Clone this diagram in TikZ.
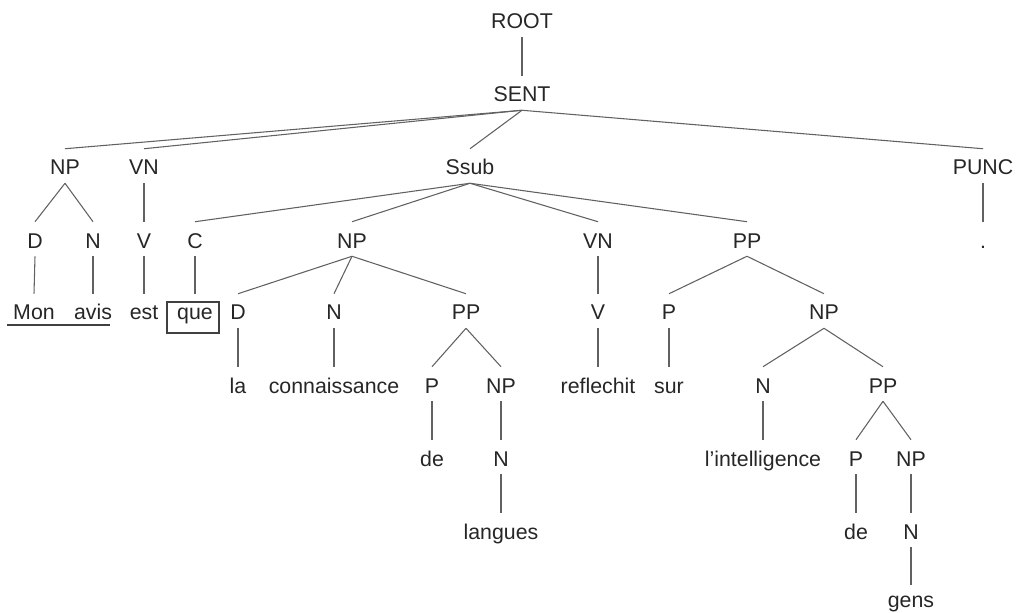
\documentclass[tikz,border=0pt]{standalone}
\usepackage{fontspec}
\setmainfont{Liberation Sans}
\usepackage{tikz}
\usetikzlibrary{calc}

\begin{document}
\begin{tikzpicture}[x=0.75pt, y=-0.75pt,
    every node/.style={anchor=base, inner sep=0pt, text height=19.5pt, text depth=6pt,
        text=black!85, font=\fontsize{16}{19}\selectfont},
    branch/.style={draw=black!62, line width=0.8pt}]
    \useasboundingbox (0,0) rectangle (1018,613);
    % Arrel i frase
    \node (root) at (522,29) {ROOT};
    \node (sent) at (522,102) {SENT};
    % Constituents de la frase
    \node (np) at (65,175) {NP};
    \node (vn) at (144,175) {VN};
    \node (ssub) at (470,175) {Ssub};
    \node (punc) at (983,175) {PUNC};
    % Nivell 3
    \node (d) at (35,248) {D};
    \node (n) at (93,248) {N};
    \node (v) at (144,248) {V};
    \node (c) at (195,248) {C};
    \node (npb) at (352,248) {NP};
    \node (vnb) at (598,248) {VN};
    \node (ppb) at (747,248) {PP};
    \node (dot) at (983,248) {.};
    % Nivell 4
    \node (mon) at (34,320) {Mon};
    \node (avis) at (93,320) {avis};
    \node (est) at (144,320) {est};
    \node (que) at (195,320) {que};
    \node (dc) at (238,320) {D};
    \node (nc) at (334,320) {N};
    \node (ppc) at (466,320) {PP};
    \node (vc) at (598,320) {V};
    \node (pc) at (669,320) {P};
    \node (npc) at (824,320) {NP};
    % Nivell 5
    \node (la) at (238,393) {la};
    \node (conn) at (334,393) {connaissance};
    \node (pd) at (432,393) {P};
    \node (npd) at (501,393) {NP};
    \node (refl) at (598,393) {reflechit};
    \node (sur) at (669,393) {sur};
    \node (nd) at (763,393) {N};
    \node (ppd) at (883,393) {PP};
    % Nivell 6
    \node (de) at (432,466) {de};
    \node (ne) at (501,466) {N};
    \node (intel) at (763,466) {l'intelligence};
    \node (pe) at (856,466) {P};
    \node (npe) at (911,466) {NP};
    % Nivells 7 i 8
    \node (lang) at (501,539) {langues};
    \node (deb) at (856,539) {de};
    \node (nf) at (911,539) {N};
    \node (gens) at (911,607) {gens};
    % Branques
    \draw[branch] (root.south) -- (sent.north);
    \draw[branch] (sent.south) -- (np.north);
    \draw[branch] (sent.south) -- (vn.north);
    \draw[branch] (sent.south) -- (ssub.north);
    \draw[branch] (sent.south) -- (punc.north);
    \draw[branch] (np.south) -- (d.north);
    \draw[branch] (np.south) -- (n.north);
    \draw[branch] (vn.south) -- (v.north);
    \draw[branch] (ssub.south) -- (c.north);
    \draw[branch] (ssub.south) -- (npb.north);
    \draw[branch] (ssub.south) -- (vnb.north);
    \draw[branch] (ssub.south) -- (ppb.north);
    \draw[branch] (punc.south) -- (dot.north);
    \draw[branch] (d.south) -- (mon.north);
    \draw[branch] (n.south) -- (avis.north);
    \draw[branch] (v.south) -- (est.north);
    \draw[branch] (c.south) -- (que.north);
    \draw[branch] (npb.south) -- (dc.north);
    \draw[branch] (npb.south) -- (nc.north);
    \draw[branch] (npb.south) -- (ppc.north);
    \draw[branch] (vnb.south) -- (vc.north);
    \draw[branch] (ppb.south) -- (pc.north);
    \draw[branch] (ppb.south) -- (npc.north);
    \draw[branch] (dc.south) -- (la.north);
    \draw[branch] (nc.south) -- (conn.north);
    \draw[branch] (ppc.south) -- (pd.north);
    \draw[branch] (ppc.south) -- (npd.north);
    \draw[branch] (vc.south) -- (refl.north);
    \draw[branch] (pc.south) -- (sur.north);
    \draw[branch] (npc.south) -- (nd.north);
    \draw[branch] (npc.south) -- (ppd.north);
    \draw[branch] (pd.south) -- (de.north);
    \draw[branch] (npd.south) -- (ne.north);
    \draw[branch] (nd.south) -- (intel.north);
    \draw[branch] (ppd.south) -- (pe.north);
    \draw[branch] (ppd.south) -- (npe.north);
    \draw[branch] (ne.south) -- (lang.north);
    \draw[branch] (pe.south) -- (deb.north);
    \draw[branch] (npe.south) -- (nf.north);
    \draw[branch] (nf.south) -- ([yshift=-3pt]gens.north);
    % Subratllat i requadre
    \draw[draw=black!75, line width=0.8pt] ($(mon.base west)+(-6,5)$) -- ($(avis.base east)+(-2,5)$);
    \draw[draw=black!75, line width=0.8pt] ($(que.base)+(-28,-18)$) rectangle ($(que.base)+(24,13)$);
\end{tikzpicture}
\end{document}
